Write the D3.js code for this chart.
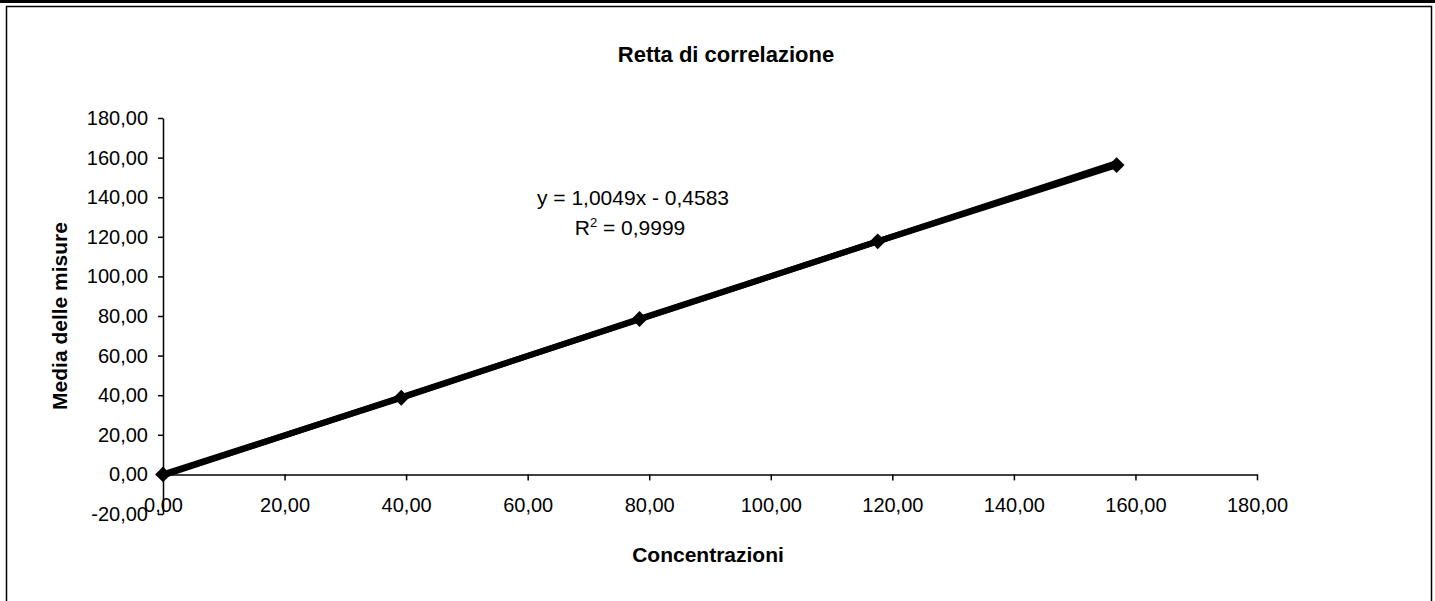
<!DOCTYPE html>
<html>
<head>
<meta charset="utf-8">
<script src="https://cdn.jsdelivr.net/npm/d3@7"></script>
<style>
  body { margin: 0; background: #fff; }
  svg { display: block; font-family: "Liberation Sans", Arial, sans-serif; }
</style>
</head>
<body>
<svg id="main-svg"></svg>
<script>
// valori
const concentrazioni = [0, 39.2, 78.4, 117.6, 156.9];
const medie = [0, 38.7, 78.5, 117.7, 156.2];
const xTicks = [0, 20, 40, 60, 80, 100, 120, 140, 160, 180];
const yTicks = [-20, 0, 20, 40, 60, 80, 100, 120, 140, 160, 180];
const pendenza = 1.0049, intercetta = -0.4583;
const equazione = "y = 1,0049x - 0,4583";
const r2 = "0,9999";

let width = 1435, height = 601;
let svg = d3.select('#main-svg').attr('width', width).attr('height', height);

let it = d3.formatLocale({decimal: ",", thousands: ".", grouping: [3], currency: ["", ""], minus: "-"});
let fmt = it.format(".2f");

// cornice
svg.append('rect').attr('x', 0).attr('y', 0).attr('width', width).attr('height', 3).attr('fill', '#000');
svg.append('path')
  .attr('d', `M6.5,${height + 5}V6.5H1431.5V${height + 5}`)
  .attr('fill', 'none').attr('stroke', '#000').attr('stroke-width', 1.5);

let x = d3.scaleLinear().domain([0, 180]).range([163, 1257]);
let y = d3.scaleLinear().domain([-20, 180]).range([514, 118]);

let xAxis = svg.append('g')
  .attr('transform', `translate(0,${y(0)})`)
  .call(d3.axisBottom(x).tickValues(xTicks).tickFormat(fmt).tickSize(6).tickSizeOuter(0).tickPadding(17));

let yAxis = svg.append('g')
  .attr('transform', `translate(${x(0)},0)`)
  .call(d3.axisLeft(y).tickValues(yTicks).tickFormat(fmt).tickSize(5).tickSizeOuter(0).tickPadding(10));

[xAxis, yAxis].forEach(function (g) {
  g.selectAll('path, line').attr('stroke', '#000').attr('stroke-width', 1.5);
  g.selectAll('text').attr('fill', '#000').style('font-size', '20px');
  g.attr('font-family', null).attr('font-size', null);
});

let punti = concentrazioni.map((c, i) => ({x: c, y: medie[i]}));

// linea di tendenza
let xMax = d3.max(concentrazioni);
svg.append('line')
  .attr('x1', x(0)).attr('y1', y(intercetta))
  .attr('x2', x(xMax)).attr('y2', y(pendenza * xMax + intercetta))
  .attr('stroke', '#000').attr('stroke-width', 6).attr('stroke-linecap', 'round');

svg.append('path')
  .datum(punti)
  .attr('fill', 'none')
  .attr('stroke', '#000')
  .attr('stroke-width', 6)
  .attr('stroke-linejoin', 'round')
  .attr('d', d3.line().x(d => x(d.x)).y(d => y(d.y)));

svg.selectAll('.marker')
  .data(punti)
  .enter()
  .append('path')
  .attr('class', 'marker')
  .attr('d', d3.symbol().type(d3.symbolSquare).size(125))
  .attr('transform', d => `translate(${x(d.x)},${y(d.y)}) rotate(45)`)
  .attr('fill', '#000');

// testi
svg.append('text')
  .attr('x', 726).attr('y', 62)
  .attr('text-anchor', 'middle')
  .style('font-size', '22px').style('font-weight', 'bold')
  .text('Retta di correlazione');

svg.append('text')
  .attr('transform', 'translate(67,316) rotate(-90)')
  .attr('text-anchor', 'middle')
  .style('font-size', '21px').style('font-weight', 'bold')
  .text('Media delle misure');

svg.append('text')
  .attr('x', x(90) - 2).attr('y', 562)
  .attr('text-anchor', 'middle')
  .style('font-size', '21px').style('font-weight', 'bold')
  .text('Concentrazioni');

svg.append('text')
  .attr('x', 633).attr('y', 205)
  .attr('text-anchor', 'middle')
  .style('font-size', '21px')
  .text(equazione);

let r = svg.append('text')
  .attr('x', 630).attr('y', 235)
  .attr('text-anchor', 'middle')
  .style('font-size', '21px');
r.append('tspan').text('R');
r.append('tspan').attr('dy', -8).style('font-size', '13px').text('2');
r.append('tspan').attr('dy', 8).text(' = ' + r2);
</script>
</body>
</html>
